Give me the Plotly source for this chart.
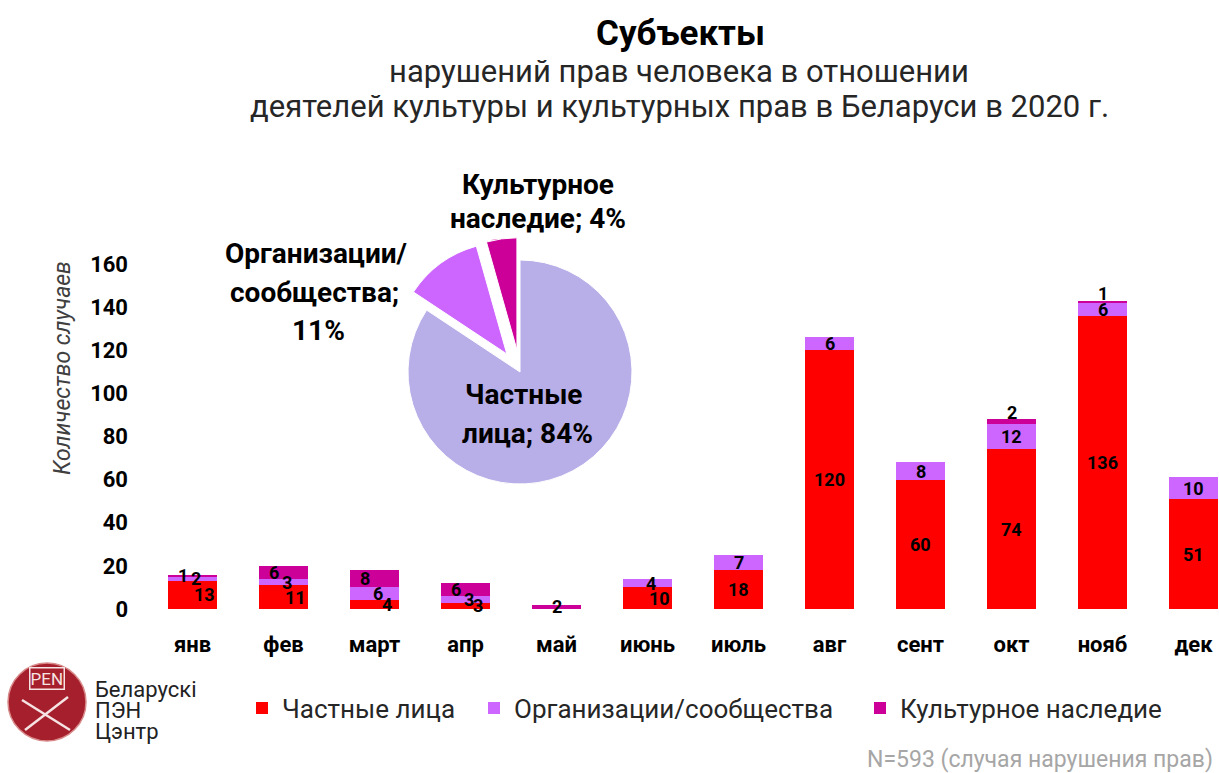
import plotly.graph_objects as go

# ---------------- data ----------------
months = ["янв", "фев", "март", "апр", "май", "июнь", "июль", "авг", "сент", "окт", "нояб", "дек"]
private = [13, 11, 4, 3, 0, 10, 18, 120, 60, 74, 136, 51]
orgs = [2, 3, 6, 3, 0, 4, 7, 6, 8, 12, 6, 10]
heritage = [1, 6, 8, 6, 2, 0, 0, 0, 0, 2, 1, 0]
series_names = ["Частные лица", "Организации/сообщества", "Культурное наследие"]
y_ticks = [0, 20, 40, 60, 80, 100, 120, 140, 160]

title = "Субъекты"
subtitle_1 = "нарушений прав человека в отношении"
subtitle_2 = "деятелей культуры и культурных прав в Беларуси в 2020 г."
y_title = "Количество случаев"
logo_lines = ["Беларускі", "ПЭН", "Цэнтр"]

# ---------------- styling ----------------
bar_colors = ["#FF0000", "#CC66FF", "#CC0099"]
pie_colors = ["#B8AEE8", "#CC66FF", "#CC0099"]
FONT = "Roboto"
W, H = 1219, 773
L, R, T, B = 147, 0, 150, 164
pw, ph = W - L - R, H - T - B
STEP = 91  # px per category
PX_PER_UNIT = 345 / 160


def fx(px):
    return (px - L) / pw


def fy(py):
    return (H - B - py) / ph


fig = go.Figure()

legend_ids = ["legend", "legend2", "legend3"]
legend_x = [242, 474, 860]

series = [private, orgs, heritage]
for name, vals, col, lid in zip(series_names, series, bar_colors, legend_ids):
    fig.add_trace(go.Bar(
        x=months, y=vals, name=name, legend=lid,
        marker=dict(color=col, line=dict(width=0)),
        width=0.54, hoverinfo="x+y+name",
    ))

annotations = []

# bar value labels (centred in each segment; nudged sideways in small mixed stacks,
# thin top segments labelled just above the bar)
label_shift = [12, 3, -10]
for i, m in enumerate(months):
    base = 0
    stack = [s[i] for s in series]
    small_mixed = sum(stack) < 25 and sum(1 for v in stack if v) > 1
    for k, v in enumerate(stack):
        if v:
            thin_top = (k == 2 and sum(stack) >= 25 and v * PX_PER_UNIT < 8)
            annotations.append(dict(
                x=m, y=(base + v) if thin_top else (base + v / 2),
                xref="x", yref="y", text=str(v), showarrow=False,
                xanchor="center", yanchor="middle",
                xshift=label_shift[k] if small_mixed else 0,
                yshift=7 if thin_top else 0,
                font=dict(family=FONT, size=18, color="black", weight="bold"),
            ))
        base += v

# ---------------- pie ----------------
totals = [sum(s) for s in series]
N = sum(totals)
pcts = [round(100 * t / N) for t in totals]
pull = 0.2
cx, cy, r = 520, 372, 112
half = r * (1 + pull)
fig.add_trace(go.Pie(
    labels=series_names, values=totals, sort=False, direction="clockwise",
    rotation=0, pull=[0, pull, pull], textinfo="none", showlegend=False,
    marker=dict(colors=pie_colors, line=dict(color="white", width=1)),
    domain=dict(x=[fx(cx - half), fx(cx + half)], y=[fy(cy + half), fy(cy - half)]),
    hoverinfo="label+percent",
))


def add_text(text, px, py, size, bold=False, color="black", xanchor="center",
             italic=False, angle=0):
    annotations.append(dict(
        x=fx(px), y=fy(py), xref="paper", yref="paper", text=text, showarrow=False,
        xanchor=xanchor, yanchor="middle", textangle=angle,
        font=dict(family=FONT, size=size, color=color,
                  weight="bold" if bold else "normal",
                  style="italic" if italic else "normal"),
    ))


# pie labels (one annotation per line, to match line spacing)
PS = 28
p_words = series_names[0].split(" ")
add_text(p_words[0], 523, 394, PS, True)
add_text(f"{p_words[1]}; {pcts[0]}%", 527, 433, PS, True)
o_words = series_names[1].split("/")
add_text(o_words[0] + "/", 316, 253, PS, True)
add_text(o_words[1] + ";", 314, 292, PS, True)
add_text(f"{pcts[1]}%", 318, 330, PS, True)
h_words = series_names[2].split(" ")
add_text(h_words[0], 538, 184, PS, True)
add_text(f"{h_words[1]}; {pcts[2]}%", 538, 218, PS, True)

# titles
add_text(title, 680, 33, 35, True)
add_text(subtitle_1, 679, 71, 31, False, "#262626")
add_text(subtitle_2, 679, 106, 31, False, "#262626")

# y-axis title
add_text(y_title, 62, 368, 23, False, "#404040", italic=True, angle=-90)

# footer
add_text(f"N={N} (случая нарушения прав)", 1215, 760, 23, False, "#A6A6A6", xanchor="right")

# logo
for i, line in enumerate(logo_lines):
    add_text(line, 93, 689 + 21 * i, 22, False, "#222222", xanchor="left")
annotations.append(dict(
    x=fx(47), y=fy(678), xref="paper", yref="paper", text="PEN", showarrow=False,
    xanchor="center", yanchor="middle",
    font=dict(family=FONT, size=17, color="#F6E3E3"),
    bordercolor="#F6E3E3", borderwidth=1.5, borderpad=0,
))

shapes = [
    dict(type="circle", xref="paper", yref="paper",
         x0=fx(8), x1=fx(86), y0=fy(741), y1=fy(663),
         fillcolor="#A61F2C", line=dict(color="#D88A8A", width=1.5), layer="above"),
    dict(type="line", xref="paper", yref="paper",
         x0=fx(22), y0=fy(700), x1=fx(70), y1=fy(730),
         line=dict(color="#F6E3E3", width=2.5), layer="above"),
    dict(type="line", xref="paper", yref="paper",
         x0=fx(68), y0=fy(697), x1=fx(25), y1=fy(730),
         line=dict(color="#F6E3E3", width=2.5), layer="above"),
]

legend_style = dict(
    orientation="h", xref="container", yref="container",
    y=1 - 708 / H, xanchor="left", yanchor="middle",
    font=dict(family=FONT, size=26, color="#262626"),
    itemclick=False, itemdoubleclick=False, bgcolor="rgba(0,0,0,0)",
)
legends = {lid: dict(legend_style, x=lx / W) for lid, lx in zip(legend_ids, legend_x)}

fig.update_layout(
    width=W, height=H,
    margin=dict(l=L, r=R, t=T, b=B, pad=0),
    paper_bgcolor="white", plot_bgcolor="white",
    barmode="stack", bargap=0.46,
    font=dict(family=FONT, color="black"),
    xaxis=dict(
        type="category", range=[-0.5, -0.5 + pw / STEP],
        showgrid=False, zeroline=False, showline=False, ticks="",
        tickfont=dict(family=FONT, size=22, color="black", weight="bold"),
        ticklabelstandoff=20, fixedrange=True,
    ),
    yaxis=dict(
        domain=[0, 345 / ph], range=[0, 160], tickvals=y_ticks,
        showgrid=False, zeroline=False, showline=False, ticks="",
        tickfont=dict(family=FONT, size=22, color="black", weight="bold"),
        ticklabelstandoff=18, fixedrange=True,
    ),
    annotations=annotations,
    shapes=shapes,
    **legends,
)

fig.write_html("out.html", post_script="document.body.style.margin='0';",
               config={"displayModeBar": False})
